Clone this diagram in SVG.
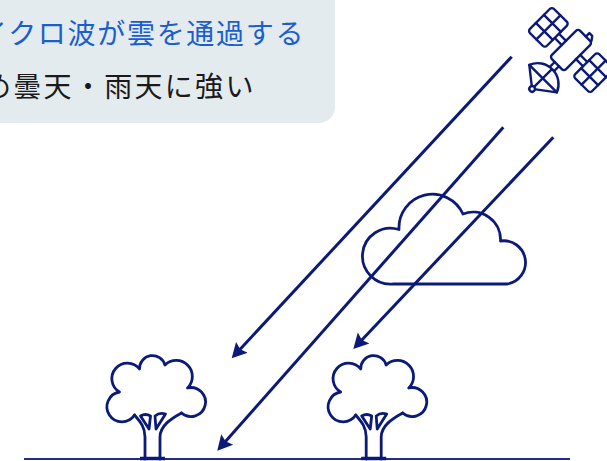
<svg xmlns="http://www.w3.org/2000/svg" width="607" height="461" viewBox="0 0 607 461">
  <defs>
    <style>
      .ink{fill:none;stroke:#0b1a78;stroke-width:2.8;stroke-linecap:round;stroke-linejoin:round}
      .sat{fill:none;stroke:#0b1a78;stroke-width:2.4;stroke-linecap:round;stroke-linejoin:round}
      .ray{fill:none;stroke:#0b1a78;stroke-width:3;stroke-linecap:butt}
      .cap{font-family:"Noto Sans CJK JP","Noto Sans",sans-serif;font-size:28px}
    </style>
    <marker id="head" markerUnits="userSpaceOnUse" markerWidth="20" markerHeight="20" viewBox="0 -10 20 20" refX="5" refY="0" orient="auto">
      <path d="M0,-8 L15,0 L0,8 L2.5,0 z" fill="#0b1a78"/>
    </marker>
    <!-- tree drawn around the base of its trunk -->
    <g id="tree-shape">
      <path class="ink" fill="#fff" d="M-18,-44 A15,15 0 1 1 -33,-67 A15.5,15.5 0 1 1 -13,-90 A13,13 0 0 1 12.5,-94 A15.5,15.5 0 0 1 35,-71 A14.5,14.5 0 1 1 29,-46"/>
      <path class="ink" d="M-18,-44 C-12,-37 -7.5,-32 -7.5,-22 L-7.5,0 M29,-46 C18,-40 7.5,-33 7.5,-22 L7.5,0"/>
      <path class="ink" d="M-12,-43 L-3.5,-30 L-2,-43 Q-7,-46 -12,-43 Z M2.5,-43 L3.5,-30 L13,-45 Q7,-47 2.5,-43 Z"/>
      <path d="M-12.5,-0.5 H12.5" stroke="#0b1a78" stroke-width="3.5"/>
    </g>
  </defs>

  <!-- caption box -->
  <g id="caption">
    <rect x="-20" y="-20" width="355" height="143" rx="16" fill="#e4ebef"/>
    <text class="cap" x="-21" y="44" fill="#1a5fcf" letter-spacing="1.7">イクロ波が雲を通過する</text>
    <text class="cap" x="-17" y="97" fill="#1a1a1a" letter-spacing="2.3">め曇天・雨天に強い</text>
  </g>

  <!-- ground -->
  <g id="ground">
    <path d="M24,459 H570" stroke="#1f2f86" stroke-width="2"/>
  </g>

  <!-- cloud -->
  <g id="cloud">
    <path class="ink" stroke-width="3.4" d="M393.5,284 A28,28 0 1 1 399,229.5 A33.5,33.5 0 0 1 463,214 A27.5,27.5 0 0 1 500.5,241 A21.5,21.5 0 1 1 507,284 Z"/>
  </g>

  <!-- trees -->
  <g id="tree-left"><use href="#tree-shape" transform="translate(152.5,459)"/></g>
  <g id="tree-right"><use href="#tree-shape" transform="translate(373.7,459)"/></g>

  <!-- satellite -->
  <g id="satellite" class="sat" transform="translate(571,50) rotate(45)">
    <rect x="-10" y="-20" width="20" height="40" rx="3"/>
    <path d="M1,-20 V-25 H5 L8,-21"/>
    <path d="M-20,-3 H-10 M-20,3 H-10 M10,-3 H20 M10,3 H20"/>
    <rect x="-44" y="-17" width="24" height="34" rx="3"/>
    <path d="M-32,-17 V17 M-44,-5.7 H-20 M-44,5.7 H-20"/>
    <rect x="20" y="-17" width="24" height="34" rx="3"/>
    <path d="M32,-17 V17 M20,-5.7 H44 M20,5.7 H44"/>
    <path d="M-3,20 V27 M3,20 V27"/>
    <path d="M-19,40 A21,21 0 0 1 20,40 Z"/>
    <path d="M-19,40 L0,55 L20,40 M0,55 V27"/>
    <circle cx="0" cy="55" r="2.8" fill="#fff"/>
  </g>

  <!-- signal rays -->
  <g id="connectors">
    <path class="ray" marker-end="url(#head)" d="M511.7,56.7 L238.5,351"/>
    <path class="ray" marker-end="url(#head)" d="M503.3,127.3 L223.9,443.2"/>
    <path class="ray" marker-end="url(#head)" d="M553.3,137.3 L360.2,341.7"/>
  </g>
</svg>
